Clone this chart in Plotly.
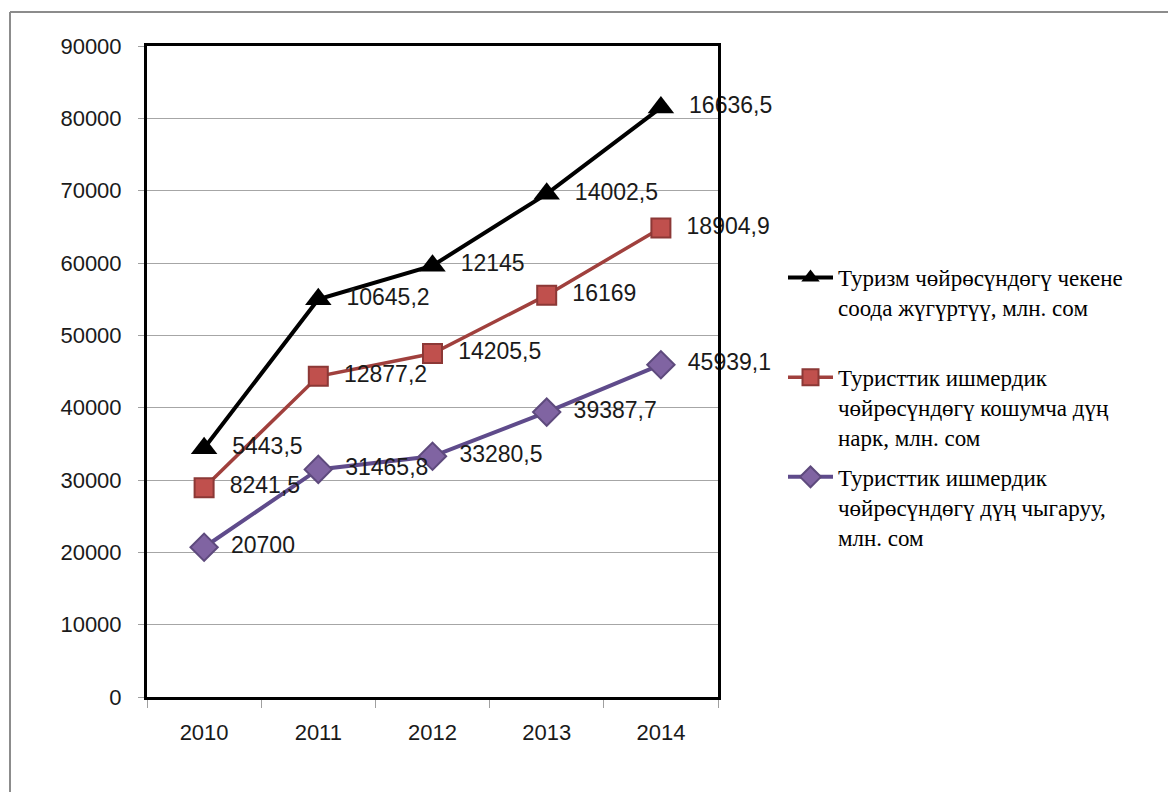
import plotly.graph_objects as go

years = ["2010", "2011", "2012", "2013", "2014"]
output_vals = [20700, 31465.8, 33280.5, 39387.7, 45939.1]
added_vals = [8241.5, 12877.2, 14205.5, 16169, 18904.9]
retail_vals = [5443.5, 10645.2, 12145, 14002.5, 16636.5]

name_retail = "Туризм чөйрөсүндөгү чекене<br>соода жүгүртүү, млн. сом<br> "
name_added = "Туристтик ишмердик<br>чөйрөсүндөгү кошумча дүң<br>нарк, млн. сом"
name_output = "Туристтик ишмердик<br>чөйрөсүндөгү дүң чыгаруу,<br>млн. сом"

def fmt(v):
    s = ("%g" % v)
    return "  " + s.replace(".", ",")

label_font = dict(family="Liberation Sans", size=23, color="#1a1a1a")

fig = go.Figure()
fig.add_trace(go.Scatter(
    x=years, y=output_vals, name=name_output, stackgroup="s", fill="none",
    mode="lines+markers+text", text=[fmt(v) for v in output_vals],
    textposition="middle right", textfont=label_font, cliponaxis=False,
    line=dict(color="#5F4B8B", width=4),
    marker=dict(symbol="diamond", size=21, color="#8064A2", line=dict(color="#5E4A7D", width=2)),
    legendgroup="c", legendrank=3,
))
fig.add_trace(go.Scatter(
    x=years, y=added_vals, name=name_added, stackgroup="s", fill="none",
    mode="lines+markers+text", text=[fmt(v) for v in added_vals],
    textposition="middle right", textfont=label_font, cliponaxis=False,
    line=dict(color="#A0403D", width=3.5),
    marker=dict(symbol="square", size=19, color="#C0504D", line=dict(color="#8C3836", width=2)),
    legendgroup="b", legendrank=2,
))
fig.add_trace(go.Scatter(
    x=years, y=retail_vals, name=name_retail, stackgroup="s", fill="none",
    mode="lines+markers+text", text=[fmt(v) for v in retail_vals],
    textposition="middle right", textfont=label_font, cliponaxis=False,
    line=dict(color="#000000", width=4),
    marker=dict(symbol="triangle-up", size=23, color="#000000"),
    legendgroup="a", legendrank=1,
))

OFF = 8  # page body margin
W, H = 1176 - OFF, 792 - OFF
L, R, T, B = 147 - OFF, 718 - OFF, 46 - OFF, 697 - OFF
pw, ph = R - L, B - T

def px_x(x):
    return (x - OFF - L) / pw

def px_y(y):
    return (B - (y - OFF)) / ph

fig.update_layout(
    width=W, height=H,
    margin=dict(l=L, r=W - R, t=T, b=H - B, pad=0),
    paper_bgcolor="white", plot_bgcolor="white",
    showlegend=True,
    legend=dict(
        x=px_x(783), y=px_y(256), xanchor="left", yanchor="top",
        traceorder="grouped", tracegroupgap=7, valign="top", itemwidth=45,
        font=dict(family="Liberation Serif", size=23, color="#000000"),
        bgcolor="rgba(0,0,0,0)",
    ),
    xaxis=dict(
        type="category", range=[-0.5, 4.5],
        showline=True, linecolor="#000000", linewidth=3, mirror=True,
        showgrid=False, ticks="outside", tickson="boundaries", ticklen=8,
        tickcolor="#A0A0A0", tickwidth=1, ticklabelstandoff=14,
        tickfont=dict(family="Liberation Sans", size=22, color="#1a1a1a"),
        fixedrange=True,
    ),
    yaxis=dict(
        range=[0, 90000], dtick=10000, tickformat="d",
        showline=True, linecolor="#000000", linewidth=3, mirror=True,
        showgrid=True, gridcolor="#A6A6A6", gridwidth=1,
        ticks="outside", ticklen=6, tickcolor="#A0A0A0", tickwidth=1,
        ticklabelstandoff=12,
        tickfont=dict(family="Liberation Sans", size=22, color="#1a1a1a"),
        zeroline=False, fixedrange=True,
    ),
    shapes=[
        dict(type="line", xref="paper", yref="paper", x0=px_x(10), x1=px_x(1190),
             y0=px_y(12), y1=px_y(12), line=dict(color="#8C8C8C", width=2), layer="below"),
        dict(type="line", xref="paper", yref="paper", x0=px_x(10), x1=px_x(10),
             y0=px_y(12), y1=px_y(810), line=dict(color="#8C8C8C", width=2), layer="below"),
    ],
)

fig.write_html("out.html")
